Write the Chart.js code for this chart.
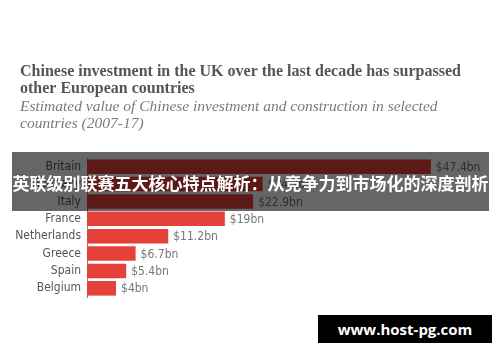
<!DOCTYPE html>
<html>
<head>
<meta charset="utf-8">
<script src="https://cdn.jsdelivr.net/npm/chart.js@4/dist/chart.umd.min.js"></script>
<style>
  body { margin: 0; background: #fff; }
  #wrap { position: relative; width: 500px; height: 362px; overflow: hidden; }
  #banner {
    position: absolute; left: 12px; top: 152px; width: 477px; height: 59px;
    background: rgba(0, 0, 0, 0.6); color: #fff;
    font: bold 17px "Noto Sans CJK SC", sans-serif;
    line-height: 61px; text-align: center; white-space: nowrap;
  }
  #mark {
    position: absolute; left: 318px; top: 315px; width: 174px; height: 28px;
    background: #000; color: #fff;
    font: bold 15px "Open Sans", sans-serif;
    line-height: 28px; text-align: center;
  }
</style>
</head>
<body>
<div id="wrap">
  <canvas id="chartOne" width="500" height="362"></canvas>
  <div id="banner">英联级别联赛五大核心特点解析：从竞争力到市场化的深度剖析</div>
  <div id="mark">www.host-pg.com</div>
</div>
<script>
// data ($bn, 2007-17)
const countries = ['Britain', 'Germany', 'Italy', 'France', 'Netherlands', 'Greece', 'Spain', 'Belgium'];
const investment = [47.4, 24.2, 22.9, 19, 11.2, 6.7, 5.4, 4];
const valueLabels = ['$47.4bn', '$24.2bn', '$22.9bn', '$19bn', '$11.2bn', '$6.7bn', '$5.4bn', '$4bn'];

const titleLines = ['Chinese investment in the UK over the last decade has surpassed', 'other European countries'];
const subtitleLines = ['Estimated value of Chinese investment and construction in selected', 'countries (2007-17)'];

const labelFont = '"Liberation Sans Narrow", "DejaVu Sans Condensed", Roboto, sans-serif';

// header text + value labels at bar ends
const textPlugin = {
    id: 'texts',
    afterDatasetsDraw(chart) {
        const ctx = chart.ctx;
        ctx.save();
        ctx.textBaseline = 'middle';
        ctx.textAlign = 'left';
        ctx.fillStyle = '#555';
        ctx.font = 'bold 16px "Liberation Serif", serif';
        titleLines.forEach((t, i) => ctx.fillText(t, 20, 72 + i * 17));
        ctx.fillStyle = '#7a7a7a';
        ctx.font = 'italic 15.5px "Liberation Serif", serif';
        subtitleLines.forEach((t, i) => ctx.fillText(t, 20, 107 + i * 17));

        ctx.fillStyle = '#777';
        ctx.font = '12px ' + labelFont;
        chart.getDatasetMeta(0).data.forEach((bar, i) => {
            ctx.fillText(valueLabels[i], bar.x + 5, bar.y + 1);
        });
        ctx.restore();
    }
};

new Chart(document.getElementById('chartOne'), {
    type: 'bar',
    data: {
        labels: countries,
        datasets: [{
            data: investment,
            backgroundColor: '#e5403a',
            borderWidth: 0,
            categoryPercentage: 1,
            barPercentage: 0.84
        }]
    },
    options: {
        indexAxis: 'y',
        responsive: false,
        animation: false,
        layout: { padding: { left: 0, right: 14, top: 158, bottom: 65 } },
        plugins: { legend: { display: false }, tooltip: { enabled: false } },
        scales: {
            x: { display: false, min: 0, max: 55 },
            y: {
                afterFit(scale) { scale.width = 87; },
                grid: { display: false, drawTicks: false },
                border: { display: true, color: '#888', width: 1 },
                ticks: {
                    autoSkip: false,
                    padding: 6,
                    color: '#555',
                    font: { family: labelFont, size: 12 }
                }
            }
        }
    },
    plugins: [textPlugin]
});
</script>
</body>
</html>
